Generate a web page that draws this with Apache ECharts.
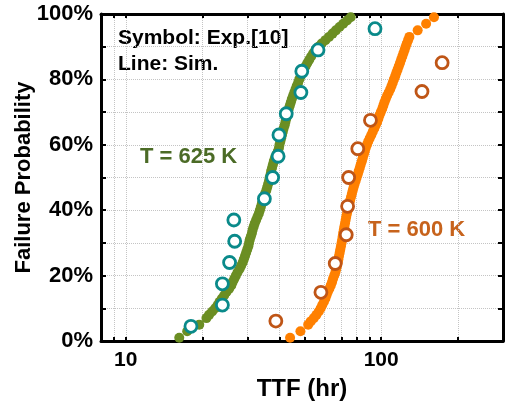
<!DOCTYPE html>
<html>
<head>
<meta charset="utf-8">
<script src="https://cdn.jsdelivr.net/npm/echarts@6/dist/echarts.min.js"></script>
<style>
  html, body { margin: 0; padding: 0; background: #fff; }
  #chart { width: 510px; height: 402px; }
</style>
</head>
<body>
<div id="chart"></div>
<script>
// simulated failure times (dots), T = 625 K
var simPct625 = [1,3,5,7,8,9,10,11,12,13,14,15,16,17,18,19,20,21,22,23,24,25,26,27,28,29,30,
                 31,32,33,34,35,36,37,38,39,40,41,42,43,44,45,46,47,48,49,50,51,52,53,54,55,56,57,58,59,60,
                 61,62,63,64,65,66,67,68,69,70,71,72,73,74,75,76,77,78,79,80,81,82,83,84,85,86,87,88,89,90,
                 91,92,93,94,95,96,97,98,99];
var simTtf625 = [16.2,17.4,19.4,20.7,21.2,21.8,22.4,22.9,23.3,23.8,24.3,24.8,25.4,25.9,26.2,26.6,27.0,27.4,27.9,28.3,28.7,29.0,29.3,29.6,29.9,30.2,30.4,
                 30.6,30.9,31.2,31.4,31.7,32.0,32.4,32.8,33.2,33.5,33.8,34.1,34.4,34.8,35.1,35.5,35.8,36.1,36.4,36.6,36.9,37.1,37.4,37.7,38.0,38.4,38.9,39.4,39.8,40.0,
                 40.3,40.6,40.9,41.2,41.5,41.9,42.2,42.5,42.9,43.2,43.5,43.9,44.3,44.7,45.2,45.7,46.2,46.7,47.3,47.8,48.4,49.1,49.8,50.6,51.4,52.3,53.2,54.2,55.3,56.8,
                 58.5,60.5,62.5,64.5,66.5,68.7,71.0,73.5,76.0];

// simulated failure times (dots), T = 600 K
var simPct600 = [1,3,5,6,7,8,9,10,11,12,13,14,15,16,17,18,19,20,21,22,23,24,25,26,27,28,29,30,
                 31,32,33,34,35,36,37,38,39,40,41,42,43,44,45,46,47,48,49,50,51,52,53,54,55,56,57,58,59,60,
                 61,62,63,64,65,66,67,68,69,70,71,72,73,74,75,76,77,78,79,80,81,82,83,84,85,86,87,88,89,90,
                 91,92,93,95,97,99];
var simTtf600 = [44.0,48.3,51.8,53.0,54.5,55.8,57.0,58.0,58.8,59.7,60.5,61.1,61.8,62.7,63.5,64.2,64.8,65.5,66.2,66.7,67.2,67.6,68.0,68.4,68.8,69.2,69.6,70.0,
                 70.4,70.7,71.0,71.4,71.8,72.2,72.6,73.0,73.5,74.0,74.5,75.0,75.6,76.2,76.8,77.4,78.0,78.7,79.5,80.2,81.0,81.7,82.5,83.2,84.0,84.7,85.5,86.2,87.0,88.0,
                 89.0,90.2,91.5,92.7,94.0,95.2,96.5,97.5,98.5,99.7,101,102,103,104.2,105.5,107,108.5,109.8,111,112.2,113.5,114.7,116,117.2,118.5,119.7,121,122.2,123.5,124.7,
                 126,127.5,129,139,150,161];

// experiment (open circles), ref [10]
var expPct625 = [4.5,11.0,17.5,24.0,30.5,37.0,43.5,50.0,56.5,63.0,69.5,76.0,82.5,89.0,95.5];
var expTtf625 = [18.0,23.9,23.9,25.5,26.7,26.5,34.9,37.6,39.5,39.8,42.5,48.5,48.9,56.6,94.6];
var expPct600 = [6.1,14.9,23.7,32.5,41.2,50.0,58.8,67.5,76.3,85.1];
var expTtf600 = [38.7,58.1,66.1,73.0,73.9,74.6,81.0,90.8,144.5,173.3];

var xTicks = [9,10,20,30,40,50,60,70,80,90,100,200];
var xLabels = [10,100];
var yLabels = [0,20,40,60,80,100];

function pairs(xs, ys) {
  return xs.map(function (x, i) { return [x, ys[i]]; });
}

var font = '"Liberation Sans", Arial, sans-serif';
var chart = echarts.init(document.getElementById('chart'));

var logAxis = {
  type: 'log',
  logBase: 10,
  min: 8,
  max: 300,
  axisLine: { show: true, onZero: false, lineStyle: { color: '#000', width: 3 } },
  axisTick: { show: true, inside: true, length: 4, customValues: xTicks, lineStyle: { color: '#000', width: 2 } },
  minorTick: { show: false }
};

var pctAxis = {
  type: 'value',
  min: 0,
  max: 100,
  interval: 10,
  axisLine: { show: true, onZero: false, lineStyle: { color: '#000', width: 3 } },
  axisTick: { show: true, inside: true, length: 5, lineStyle: { color: '#000', width: 2 } }
};

var option = {
  animation: false,
  backgroundColor: '#fff',
  grid: { left: 101, right: 7, top: 14, bottom: 61, containLabel: false, outerBoundsMode: 'none' },
  xAxis: [
    Object.assign({}, logAxis, {
      position: 'bottom',
      name: 'TTF (hr)',
      nameLocation: 'middle',
      nameGap: 36,
      nameTextStyle: { fontFamily: font, fontWeight: 'bold', fontSize: 24, color: '#000' },
      axisLabel: {
        customValues: xLabels, margin: 9,
        fontFamily: font, fontWeight: 'bold', fontSize: 21, color: '#000'
      },
      splitLine: { show: true, lineStyle: { color: '#c4c4c4', type: 'dotted', width: 1 } }
    }),
    Object.assign({}, logAxis, {
      position: 'top',
      axisLabel: { show: false },
      splitLine: { show: false }
    })
  ],
  yAxis: [
    Object.assign({}, pctAxis, {
      position: 'left',
      name: 'Failure Probability',
      nameLocation: 'middle',
      nameMoveOverlap: false,
      nameGap: 66,
      nameTextStyle: { fontFamily: font, fontWeight: 'bold', fontSize: 22, color: '#000' },
      axisLabel: {
        margin: 8,
        fontFamily: font, fontWeight: 'bold', fontSize: 22, color: '#000',
        formatter: function (v) { return yLabels.indexOf(v) >= 0 ? v + '%' : ''; }
      },
      splitLine: { show: true, lineStyle: { color: '#c4c4c4', type: 'dotted', width: 1 } }
    }),
    Object.assign({}, pctAxis, {
      position: 'right',
      axisLabel: { show: false },
      splitLine: { show: false }
    })
  ],
  graphic: [
    { type: 'text', left: 118, top: 28, style: { text: 'Symbol: Exp.[10]', font: 'bold 21px ' + font, fill: '#000' } },
    { type: 'text', left: 118, top: 54, style: { text: 'Line: Sim.', font: 'bold 21px ' + font, fill: '#000' } },
    { type: 'text', left: 140, top: 146, style: { text: 'T = 625 K', font: 'bold 22px ' + font, fill: '#4b6b26' } },
    { type: 'text', left: 368, top: 219, style: { text: 'T = 600 K', font: 'bold 22px ' + font, fill: '#c7631c' } }
  ],
  series: [
    {
      name: 'Sim 625K', type: 'scatter', symbolSize: 10, z: 2,
      itemStyle: { color: '#6b8e23', opacity: 1 },
      data: pairs(simTtf625, simPct625)
    },
    {
      name: 'Sim 600K', type: 'scatter', symbolSize: 10, z: 2,
      itemStyle: { color: '#ff8000', opacity: 1 },
      data: pairs(simTtf600, simPct600)
    },
    {
      name: 'Exp 625K', type: 'scatter', symbolSize: 12, z: 3,
      itemStyle: { color: '#fff', borderColor: '#0a8a8a', borderWidth: 2.8, opacity: 1 },
      data: pairs(expTtf625, expPct625)
    },
    {
      name: 'Exp 600K', type: 'scatter', symbolSize: 12, z: 3,
      itemStyle: { color: '#fff', borderColor: '#bf5516', borderWidth: 2.8, opacity: 1 },
      data: pairs(expTtf600, expPct600)
    }
  ]
};

chart.setOption(option);
</script>
</body>
</html>
